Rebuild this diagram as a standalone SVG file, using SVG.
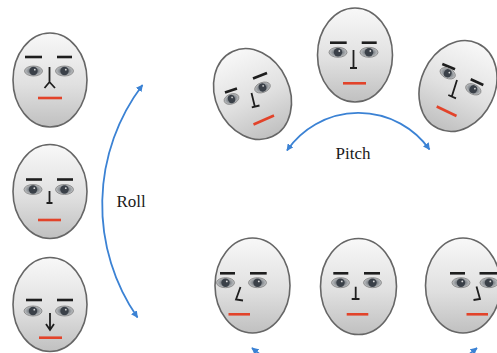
<svg xmlns="http://www.w3.org/2000/svg" width="497" height="353" viewBox="0 0 497 353">
  <defs>
    <linearGradient id="skin" x1="0" y1="0" x2="0" y2="1">
      <stop offset="0" stop-color="#f8f8f8"/>
      <stop offset="0.55" stop-color="#e0e0e0"/>
      <stop offset="1" stop-color="#c0c0c0"/>
    </linearGradient>
    <radialGradient id="eyeball" cx="0.5" cy="0.5" r="0.5">
      <stop offset="0" stop-color="#5a6067"/>
      <stop offset="0.55" stop-color="#868b90"/>
      <stop offset="1" stop-color="#c4c6c8"/>
    </radialGradient>
    <g id="eye">
      <ellipse rx="9" ry="5" fill="url(#eyeball)" stroke="#7e7e7e" stroke-width="0.8"/>
      <circle r="4.2" fill="#3a4048"/>
      <circle cx="1.3" cy="-1.3" r="0.9" fill="#dcdcdc"/>
    </g>
    <marker id="tip" viewBox="0 0 10 10" refX="9" refY="5" markerWidth="7" markerHeight="7" markerUnits="userSpaceOnUse" orient="auto-start-reverse">
      <path d="M0,0 L10,5 L0,10 z" fill="#3b82d4"/>
    </marker>
  </defs>
  <style>
    .head{fill:url(#skin);stroke:#666;stroke-width:1.6}
    .brow{stroke:#1e1e1e;stroke-width:2.6}
    .nose{fill:none;stroke:#1e1e1e;stroke-width:1.8}
    .mouth{stroke:#e2432a;stroke-width:2.6}
    .arc{fill:none;stroke:#3b82d4;stroke-width:1.8;marker-start:url(#tip);marker-end:url(#tip)}
    .label{font-family:"Liberation Serif","Times New Roman",serif;font-size:17px;fill:#1a1a1a}
  </style>

  <!-- left column: roll sequence -->
  <g id="roll-up">
    <ellipse class="head" cx="50" cy="80" rx="37" ry="47"/>
    <line class="brow" x1="25" y1="57" x2="42" y2="57"/>
    <line class="brow" x1="57" y1="57" x2="72" y2="57"/>
    <use href="#eye" transform="translate(33.5,71)"/>
    <use href="#eye" transform="translate(64.5,71)"/>
    <path class="nose" d="M49.5,67 V82 M44.5,88 L49.5,82 L55,88"/>
    <line class="mouth" x1="38" y1="98" x2="62" y2="98"/>
  </g>
  <g id="roll-neutral">
    <ellipse class="head" cx="50" cy="191.5" rx="37" ry="47"/>
    <line class="brow" x1="26" y1="179.5" x2="42" y2="179.5"/>
    <line class="brow" x1="57" y1="179.5" x2="73" y2="179.5"/>
    <use href="#eye" transform="translate(33,189.5)"/>
    <use href="#eye" transform="translate(64.5,189.5)"/>
    <path class="nose" d="M49.5,191 V203 M46.5,203 H52.5"/>
    <line class="mouth" x1="38" y1="220" x2="61" y2="220"/>
  </g>
  <g id="roll-down">
    <ellipse class="head" cx="50" cy="304.5" rx="37" ry="47"/>
    <line class="brow" x1="26" y1="300" x2="42" y2="300"/>
    <line class="brow" x1="57" y1="300" x2="73" y2="300"/>
    <use href="#eye" transform="translate(33,311)"/>
    <use href="#eye" transform="translate(64.5,311)"/>
    <path class="nose" d="M50,313 V329.5 M46,324 L50,330 L54,324"/>
    <line class="mouth" x1="39" y1="337.7" x2="62" y2="337.7"/>
  </g>

  <!-- top row: pitch sequence -->
  <g id="pitch-left">
    <ellipse class="head" cx="252.5" cy="94" rx="37" ry="47" transform="rotate(-25 252.5 94)"/>
    <line class="brow" x1="225" y1="92.5" x2="237" y2="88.5"/>
    <line class="brow" x1="253" y1="78.5" x2="267" y2="73"/>
    <use href="#eye" transform="translate(231.5,99) rotate(-20) scale(0.85,1)"/>
    <use href="#eye" transform="translate(262.5,87.5) rotate(-20) scale(0.9,1)"/>
    <path class="nose" d="M251.5,93 L254.8,106.5 M251.8,107.3 L259.5,105.5"/>
    <line class="mouth" x1="253.5" y1="124.5" x2="274" y2="115.5"/>
  </g>
  <g id="pitch-neutral">
    <ellipse class="head" cx="355" cy="55" rx="37.5" ry="47"/>
    <line class="brow" x1="330" y1="42.7" x2="346.7" y2="42.7"/>
    <line class="brow" x1="361.7" y1="42.7" x2="376.7" y2="42.7"/>
    <use href="#eye" transform="translate(338,52.3)"/>
    <use href="#eye" transform="translate(369,52.3)"/>
    <path class="nose" d="M353.5,50 V68 M350,68 H357"/>
    <line class="mouth" x1="343" y1="83.3" x2="366" y2="83.3"/>
  </g>
  <g id="pitch-right">
    <ellipse class="head" cx="458" cy="86" rx="37" ry="47" transform="rotate(25 458 86)"/>
    <line class="brow" x1="442.3" y1="64" x2="455" y2="69.3"/>
    <line class="brow" x1="470.7" y1="79.3" x2="483.3" y2="85"/>
    <use href="#eye" transform="translate(447.7,73.3) rotate(25) scale(0.9,1)"/>
    <use href="#eye" transform="translate(473.3,89.3) rotate(25) scale(0.9,1)"/>
    <path class="nose" d="M457,80 L451.8,96.5 M448.3,95 L456,98.3"/>
    <line class="mouth" x1="436.7" y1="106.5" x2="456.5" y2="116"/>
  </g>

  <!-- bottom row: yaw sequence -->
  <g id="yaw-left">
    <ellipse class="head" cx="252.5" cy="285.5" rx="37.5" ry="47.5"/>
    <line class="brow" x1="220" y1="273.3" x2="235" y2="273.3"/>
    <line class="brow" x1="250" y1="273.3" x2="266.7" y2="273.3"/>
    <use href="#eye" transform="translate(225.5,282.7)"/>
    <use href="#eye" transform="translate(257.5,282.7)"/>
    <path class="nose" d="M240.5,287 L236,299.5 L243,300.5"/>
    <line class="mouth" x1="228.5" y1="314.3" x2="250" y2="314.3"/>
  </g>
  <g id="yaw-neutral">
    <ellipse class="head" cx="358.5" cy="286.5" rx="38" ry="48"/>
    <line class="brow" x1="333.3" y1="273.3" x2="348.3" y2="273.3"/>
    <line class="brow" x1="364" y1="273.3" x2="380" y2="273.3"/>
    <use href="#eye" transform="translate(340.5,282.7)"/>
    <use href="#eye" transform="translate(372.5,282.7)"/>
    <path class="nose" d="M355.7,286.7 V299 M351.7,299 H359.5"/>
    <line class="mouth" x1="346.7" y1="314.3" x2="368.3" y2="314.3"/>
  </g>
  <g id="yaw-right">
    <ellipse class="head" cx="463" cy="285.5" rx="37.5" ry="47.5"/>
    <line class="brow" x1="450" y1="273.3" x2="465" y2="273.3"/>
    <line class="brow" x1="479.5" y1="273.3" x2="497" y2="273.3"/>
    <use href="#eye" transform="translate(461,282.7)"/>
    <use href="#eye" transform="translate(489,282.7)"/>
    <path class="nose" d="M476.5,286.5 L480,299 L473.5,300"/>
    <line class="mouth" x1="466.5" y1="314.3" x2="488" y2="314.3"/>
  </g>

  <!-- rotation arrows -->
  <g id="connectors">
    <path class="arc" d="M142.5,85 A198,198 0 0 0 137.5,317.5"/>
    <path class="arc" d="M287,150.5 A87,87 0 0 1 429.5,149.5"/>
    <path class="arc" d="M252,348 A175,175 0 0 0 477,348"/>
  </g>

  <text class="label" x="116.5" y="206.5">Roll</text>
  <text class="label" x="335.5" y="158.5">Pitch</text>
</svg>
